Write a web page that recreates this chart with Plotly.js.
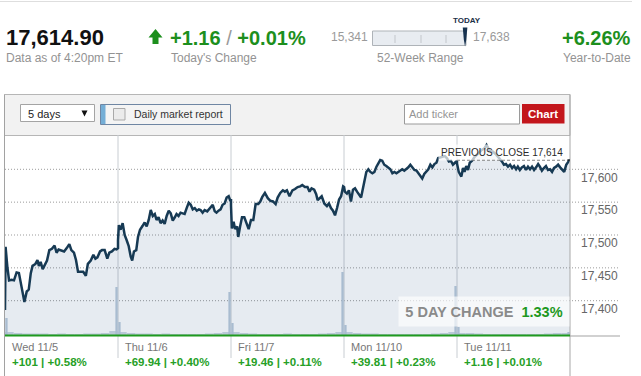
<!DOCTYPE html>
<html><head><meta charset="utf-8">
<script src="https://cdn.plot.ly/plotly-3.0.1.min.js"></script>
<style>html,body{margin:0;padding:0;background:#fff;overflow:hidden}#chart{width:641px;height:376px}</style>
</head><body><div id="chart"></div>
<script>
// ---------------- data ----------------
const dayLabels = ['Wed 11/5', 'Thu 11/6', 'Fri 11/7', 'Mon 11/10', 'Tue 11/11'];
const dayChange = ['+101', '+69.94', '+19.46', '+39.81', '+1.16'];
const dayChangePct = ['+0.58%', '+0.40%', '+0.11%', '+0.23%', '+0.01%'];

const lastPrice = 17614.90;
const todayChange = '+1.16';
const todayChangePct = '+0.01%';
const low52 = 15341;
const high52 = 17638;
const ytdPct = '+6.26%';
const fiveDayPct = '1.33%';
const prevClose = 17614;
const yTicks = [17400, 17450, 17500, 17550, 17600];

// minutes after the open, and DJIA level, per session
const wedMinutes = [0,2,8,14,23,31,40,48,55,63,67,75,82,89,95,105,112,117,123,130,138,145,153,162,171,178,185,194,204,213,222,229,238,245,252,261,270,279,286,296,305,312,319,328,335,344,353,360,369,378,385,390];
const wedPrices = [17386,17482,17452,17431,17432,17431,17443,17442,17426,17406,17398,17414,17417,17442,17453,17456,17462,17453,17459,17448,17456,17461,17477,17479,17484,17473,17478,17477,17475,17480,17486,17477,17473,17462,17444,17444,17444,17438,17456,17461,17470,17464,17466,17475,17477,17477,17464,17473,17475,17479,17478,17480];

const thuMinutes = [0,3,9,16,23,30,37,44,49,55,63,69,76,85,92,99,106,113,120,127,133,140,147,154,161,168,175,182,189,196,202,209,216,223,230,237,244,251,258,265,272,279,285,292,299,308,317,327,334,340,347,354,361,368,375,382,387,390];
const thuPrices = [17492,17515,17508,17518,17500,17492,17483,17467,17461,17475,17477,17497,17508,17514,17519,17513,17523,17538,17529,17532,17523,17527,17518,17522,17517,17529,17537,17533,17522,17527,17532,17529,17534,17533,17532,17541,17549,17546,17539,17541,17537,17539,17538,17534,17538,17536,17541,17546,17536,17534,17537,17539,17546,17548,17557,17559,17553,17553];

const friMinutes = [0,3,9,14,21,25,31,38,46,53,61,69,77,85,94,101,108,117,127,136,145,154,161,170,179,186,193,202,212,221,230,239,246,255,264,271,278,287,294,299,306,313,322,331,338,345,352,359,366,373,380,387,390];
const friPrices = [17545,17510,17520,17509,17513,17497,17512,17527,17527,17518,17509,17523,17523,17547,17547,17551,17558,17564,17556,17552,17551,17547,17557,17564,17568,17566,17568,17559,17568,17570,17573,17574,17576,17573,17573,17566,17571,17569,17562,17553,17556,17559,17548,17544,17548,17541,17537,17530,17541,17554,17559,17574,17573];

const monMinutes = [0,3,10,17,24,31,38,45,52,59,63,70,77,84,91,98,105,112,118,125,132,139,146,153,160,167,174,181,187,194,201,208,215,222,229,236,243,250,256,263,270,277,284,291,298,305,312,319,325,332,339,348,355,362,369,376,383,390];
const monPrices = [17574,17566,17563,17568,17551,17569,17571,17566,17561,17557,17566,17584,17596,17600,17596,17594,17596,17604,17609,17614,17613,17607,17605,17603,17600,17594,17596,17594,17596,17598,17600,17598,17600,17603,17607,17603,17599,17598,17594,17589,17586,17593,17596,17600,17607,17603,17608,17610,17617,17618,17619,17620,17617,17612,17613,17607,17610,17613];

const tueMinutes = [0,6,12,15,21,26,32,38,44,52,61,72,84,95,102,112,124,136,147,155,162,169,176,183,190,197,204,210,217,224,231,238,245,252,259,266,273,280,286,293,300,307,314,321,328,335,342,349,356,363,370,377,384,390];
const tuePrices = [17609,17596,17591,17589,17602,17596,17605,17599,17610,17613,17619,17624,17629,17632,17637,17629,17627,17622,17617,17612,17607,17608,17604,17607,17602,17605,17600,17604,17599,17603,17605,17599,17604,17600,17604,17599,17603,17608,17604,17598,17602,17605,17599,17600,17596,17602,17604,17607,17603,17599,17596,17607,17612,17615];

// volume (relative units): half-hour buckets, and opening / closing prints
const volBandWed = [3,2,1.5,1.5,1.5,1,1.5,1,1,1.5,1.5,2,4];
const volBandThu = [3,2,1.5,1.5,1,1.5,1,1,1,1,1.5,2,3];
const volBandFri = [3,2,1.5,1,1,1,1.5,1,1,1,1.5,2,3];
const volBandMon = [3,2,1.5,1.5,1,1,1,1,1,1,1.5,2,3];
const volBandTue = [2,2,1.5,1,1,1,1,1,1,1,1.5,2,2];
const volOpen = [17, 13, 12, 10, 8];
const volClose = [48, 43, 63, 49, 3];

// ---------------- build ----------------
const SESSION = 390;
const sessions = [[wedMinutes, wedPrices],[thuMinutes, thuPrices],[friMinutes, friPrices],[monMinutes, monPrices],[tueMinutes, tuePrices]];
const bands = [volBandWed, volBandThu, volBandFri, volBandMon, volBandTue];
const px = [], py = [];
sessions.forEach((s, d) => { s[0].forEach((m, i) => { px.push(d*SESSION + m); py.push(s[1][i]); }); });
const bx = [], by = [];
bands.forEach((b, d) => b.forEach((v, k) => { bx.push(d*SESSION + 15 + 30*k); by.push(v); }));
const sx = [], sy = [];
volOpen.forEach((v, d) => { sx.push(d*SESSION + 5); sy.push(v); sx.push(d*SESSION + 385); sy.push(volClose[d]); });

// pixel -> paper helpers (plot area is x 5..570, y 135..335)
const P = x => (x - 5) / 565;
const Q = y => (335 - y) / 200;

const GREEN = '#1d8f1d';
const GREEN2 = '#26a026';
const GRAY = '#939393';
const FONT = 'Liberation Sans, Arial, sans-serif';

const traces = [
  { x: px, y: py, type: 'scatter', mode: 'lines', fill: 'tozeroy',
    fillcolor: 'rgba(30,70,130,0.11)', line: { color: '#173a54', width: 2.5 }, hoverinfo: 'skip' },
  { x: bx, y: by, type: 'bar', yaxis: 'y2', width: 30, marker: { color: '#b9c8d7', line: { width: 0 } }, hoverinfo: 'skip' },
  { x: sx, y: sy, type: 'bar', yaxis: 'y2', width: 8, marker: { color: '#a9bcd0', line: { width: 0 } }, hoverinfo: 'skip' }
];

const shapes = [];
const rect = (x0, y0, x1, y1, fill, line, lw) => shapes.push({ type: 'rect', xref: 'paper', yref: 'paper', x0: P(x0), x1: P(x1), y0: Q(y1), y1: Q(y0), fillcolor: fill, line: { color: line || 'rgba(0,0,0,0)', width: lw === undefined ? 1 : lw }, layer: 'below' });
const hline = (x0, x1, y, color, w, dash) => shapes.push({ type: 'line', xref: 'paper', yref: 'paper', x0: P(x0), x1: P(x1), y0: Q(y), y1: Q(y), line: { color, width: w || 1, dash: dash || 'solid' }, layer: 'above' });
const vline = (x, y0, y1, color, w) => shapes.push({ type: 'line', xref: 'paper', yref: 'paper', x0: P(x), x1: P(x), y0: Q(y0), y1: Q(y1), line: { color, width: w || 1 }, layer: 'above' });
const path = (pts, fill) => shapes.push({ type: 'path', xref: 'paper', yref: 'paper', path: 'M ' + pts.map(p => P(p[0]) + ',' + Q(p[1])).join(' L ') + ' Z', fillcolor: fill, line: { width: 0 }, layer: 'above' });

// top rule
hline(0, 632, 1.5, '#dedede', 1);
// 52-week range widget
rect(372.5, 31, 466, 45.5, '#e8ecf1', '#aeb3b8', 1);
[395, 421, 446].forEach(x => vline(x, 35, 43, '#c2c6cb', 1));
const needleX = 372.5 + (lastPrice - low52) / (high52 - low52) * 93.5;
path([[needleX-2.3, 27.5], [needleX+2.3, 27.5], [needleX+1.2, 40], [needleX, 46.5], [needleX-1.2, 40]], '#17324f');
// up arrow
path([[148.5, 37.5], [155.5, 29], [162.5, 37.5], [158.5, 37.5], [158.5, 44], [152.5, 44], [152.5, 37.5]], GREEN);
// chart header panel
rect(4.5, 94.5, 570, 135.5, '#f2f2f2', '#b6b6b6', 1);
rect(20.5, 104.5, 94.5, 121.5, '#ffffff', '#a4a4a4', 1);
path([[81.5, 110.5], [87.5, 110.5], [84.5, 116.5]], '#111111');
rect(100.5, 104.5, 230.5, 124.5, '#f4f4f4', '#6f86a3', 1);
rect(101, 105, 105.5, 124, '#74aed6', null, 0);
rect(113.5, 108.5, 125, 120, '#ebebeb', '#a9a9a9', 1);
rect(404.5, 104.5, 519.5, 124, '#ffffff', '#9a9a9a', 1);
rect(522, 104, 564.5, 123.5, '#c3161c', null, 0);
// container borders
vline(4.5, 94.5, 376, '#a2a2a2', 1);
vline(570, 94.5, 376, '#a8a8a8', 1);
// dotted horizontal grid (extends under the tick labels)
yTicks.forEach(v => shapes.push({ type: 'line', xref: 'paper', yref: 'y', x0: 0, x1: P(620), y0: v, y1: v, line: { color: '#9b9b9b', width: 1, dash: '1px,2px' }, layer: 'below' }));
// session separators
for (let d = 1; d < 5; d++) shapes.push({ type: 'line', xref: 'x', yref: 'paper', x0: d*SESSION, x1: d*SESSION, y0: Q(358), y1: 1, line: { color: '#c8cdd2', width: 1 }, layer: 'below' });
// baseline
hline(5, 570, 335.6, '#1f9a1f', 2);
hline(570, 620, 336, '#a3a3a3', 1);
// previous close marker
shapes.push({ type: 'line', xref: 'x', yref: 'y', x0: 4*SESSION, x1: 5*SESSION, y0: prevClose, y1: prevClose, line: { color: '#111', width: 1, dash: '3px,2px' }, layer: 'above' });

const fmt = n => n.toFixed(2).replace(/\B(?=(\d{3})+(?!\d))/g, ',');
const fmtInt = n => String(Math.round(n)).replace(/\B(?=(\d{3})+(?!\d))/g, ',');

const ann = [];
const A = (x, y, text, size, color, xanchor, extra) => ann.push(Object.assign({ xref: 'paper', yref: 'paper', x: P(x), y: Q(y), text, showarrow: false, xanchor: xanchor || 'left', yanchor: 'middle', borderpad: 0, font: { size, color, family: FONT } }, extra || {}));

A(4.5, 38, '<b>' + fmt(lastPrice) + '</b>', 22, '#111111');
A(4.5, 57.5, 'Data as of 4:20pm ET', 12, GRAY);
A(168.5, 38, '<b>' + todayChange + '</b> <span style="color:#9a9a9a">/</span> <b>' + todayChangePct + '</b>', 20, GREEN);
A(169.5, 57.5, "Today's Change", 12, GRAY);
A(368.5, 37, fmtInt(low52), 12, '#9a9a9a', 'right');
A(471.5, 37, fmtInt(high52), 12, '#9a9a9a');
A(466.5, 20.5, '<b>TODAY</b>', 8, '#1b2f45', 'center');
A(420, 57.5, '52-Week Range', 12, GRAY, 'center');
A(632, 38, '<b>' + ytdPct + '</b>', 20, GREEN, 'right');
A(632, 57.5, 'Year-to-Date', 12, GRAY, 'right');
// header controls
A(26.5, 113.5, '5 days', 11, '#222222');
A(132.5, 113.5, 'Daily market report', 10.5, '#333333');
A(408, 114, 'Add ticker', 11, '#959595');
A(543.2, 113.7, '<b>Chart</b>', 11.5, '#ffffff', 'center');
// in-plot labels
A(566, 152.7, 'PREVIOUS CLOSE ' + fmtInt(prevClose), 10, '#2a2a2a', 'right', { bgcolor: 'rgba(255,255,255,0.7)', borderpad: 2 });
A(570, 311.5, '<b>5 DAY CHANGE&nbsp; <span style="color:#1e981e">' + fiveDayPct + '</span></b>', 14.5, '#8a8a8a', 'right', { bgcolor: 'rgba(255,255,255,0.65)', width: 170, height: 29, align: 'center' });
// session footers
dayLabels.forEach((lab, d) => {
  ann.push({ xref: 'x', yref: 'paper', x: d*SESSION, xshift: 5.5, y: Q(346.5), text: lab, showarrow: false, xanchor: 'left', yanchor: 'middle', borderpad: 0, font: { size: 11, color: '#777777', family: FONT } });
  ann.push({ xref: 'x', yref: 'paper', x: d*SESSION, xshift: 5.5, y: Q(362), text: '<b>' + dayChange[d] + ' | ' + dayChangePct[d] + '</b>', showarrow: false, xanchor: 'left', yanchor: 'middle', borderpad: 0, font: { size: 11.5, color: GREEN2, family: FONT } });
});

const layout = {
  width: 641, height: 376,
  margin: { l: 5, r: 71, t: 135, b: 41, pad: 0 },
  paper_bgcolor: '#ffffff', plot_bgcolor: '#ffffff',
  showlegend: false, hovermode: false, barmode: 'overlay',
  font: { family: FONT },
  xaxis: { range: [0, 5*SESSION], visible: false, fixedrange: true },
  yaxis: { range: [17347.8, 17652.2], side: 'right', tickvals: yTicks, tickformat: ',d', showgrid: false, zeroline: false, showline: false, ticks: '',
           tickfont: { size: 12, color: '#666666', family: FONT }, ticklabelstandoff: 10, ticklabelshift: 8, fixedrange: true },
  yaxis2: { overlaying: 'y', range: [0, 200], visible: false, fixedrange: true },
  shapes, annotations: ann
};

Plotly.newPlot('chart', traces, layout, { displayModeBar: false, staticPlot: true });
</script></body></html>
